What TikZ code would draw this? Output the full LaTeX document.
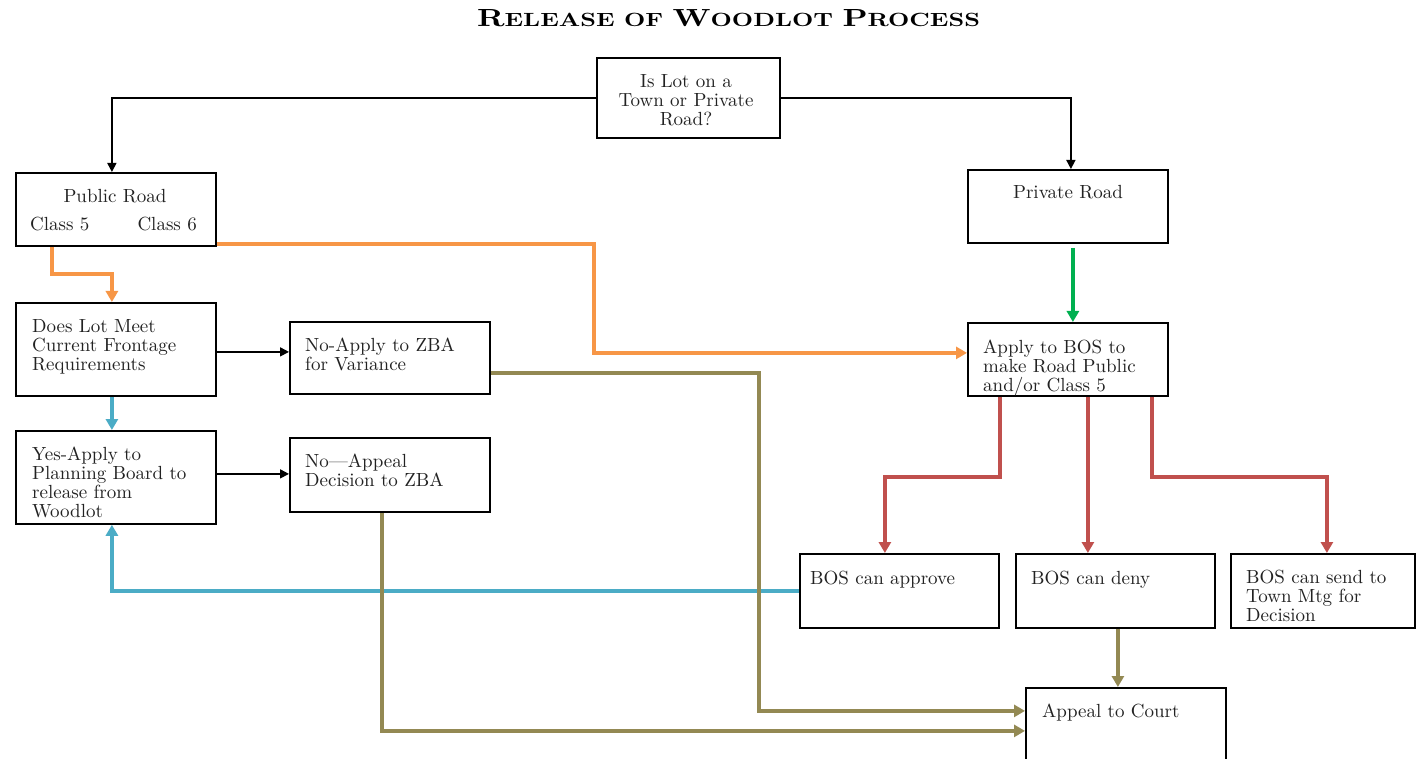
\documentclass[tikz,border=0pt]{standalone}
\usepackage{fontspec}
\setmainfont{lmroman10-regular.otf}[BoldFont=lmroman10-bold.otf]
\usepackage{graphicx}
\usetikzlibrary{arrows.meta}
\definecolor{corange}{HTML}{F79646}
\definecolor{cgreen}{HTML}{00B050}
\definecolor{cblue}{HTML}{4BACC6}
\definecolor{cred}{HTML}{C0504D}
\definecolor{colive}{HTML}{938953}
\definecolor{ctext}{HTML}{222222}
\tikzset{
  bx/.style={draw=black, line width=1.8pt, rectangle, inner sep=0pt, anchor=north west},
  txt/.style={inner sep=0pt, align=left, text=ctext, font=\fontsize{19}{19}\selectfont},
  blk/.style={draw=black, line width=1.6pt, -{Triangle[length=9pt,width=9pt]}},
  col/.style={line width=4pt, -{Triangle[length=11pt,width=12pt]}},
}
\begin{document}
\begin{tikzpicture}[x=1pt,y=-1pt]
\useasboundingbox (0,0) rectangle (1416,759);
\fill[white] (0,0) rectangle (1416,759);

% title
\node[inner sep=0pt, anchor=base] (title) at (728.5,27) {\resizebox{503pt}{17pt}{\bfseries
  \fontsize{24}{24}\selectfont R\fontsize{18.5}{18.5}\selectfont ELEASE OF
  \fontsize{24}{24}\selectfont W\fontsize{18.5}{18.5}\selectfont OODLOT
  \fontsize{24}{24}\selectfont P\fontsize{18.5}{18.5}\selectfont ROCESS}};

% boxes
\node[bx, minimum width=183pt, minimum height=80pt] (q) at (596,57) {};
\node[bx, minimum width=200pt, minimum height=73pt] (pub) at (15,172) {};
\node[bx, minimum width=200pt, minimum height=73pt] (priv) at (967,169) {};
\node[bx, minimum width=200pt, minimum height=93pt] (dol) at (15,302) {};
\node[bx, minimum width=200pt, minimum height=72pt] (noz) at (289,321) {};
\node[bx, minimum width=200pt, minimum height=93pt] (yes) at (15,430) {};
\node[bx, minimum width=200pt, minimum height=74pt] (noa) at (289,437) {};
\node[bx, minimum width=200pt, minimum height=73pt] (bos) at (967,322) {};
\node[bx, minimum width=199pt, minimum height=74pt] (app) at (799,553) {};
\node[bx, minimum width=199pt, minimum height=74pt] (deny) at (1015,553) {};
\node[bx, minimum width=184pt, minimum height=74pt] (send) at (1230,553) {};
\node[bx, minimum width=200pt, minimum height=83pt] (court) at (1025,687) {};

% texts (multi-line nodes: base = baseline of last line)
\node[txt, align=center, anchor=base] (t-q) at (686,126) {Is Lot on a\\Town or Private\\Road?};
\node[txt, anchor=base] (t-pub) at (115,202.5) {Public Road};
\node[txt, anchor=base west] (t-c5) at (30,230.5) {Class 5};
\node[txt, anchor=base east] (t-c6) at (197,230.5) {Class 6};
\node[txt, anchor=base] (t-priv) at (1068,198.5) {Private Road};
\node[txt, anchor=base west] (t-dol) at (32,370) {Does Lot Meet\\Current Frontage\\Requirements};
\node[txt, anchor=base west] (t-noz) at (305,370.5) {No-Apply to ZBA\\for Variance};
\node[txt, anchor=base west] (t-yes) at (32,517) {Yes-Apply to\\Planning Board to\\release from\\Woodlot};
\node[txt, anchor=base west] (t-noa) at (305,486.5) {No—Appeal\\Decision to ZBA};
\node[txt, anchor=base west] (t-bos) at (983,391) {Apply to BOS to\\make Road Public\\and/or Class 5};
\node[txt, anchor=base west] (t-app) at (810,584.5) {BOS can approve};
\node[txt, anchor=base west] (t-deny) at (1031,584.5) {BOS can deny};
\node[txt, anchor=base west] (t-send) at (1246,621.5) {BOS can send to\\Town Mtg for\\Decision};
\node[txt, anchor=base west] (t-court) at (1042,717.5) {Appeal to Court};

% black connectors
\draw[blk] (q.west) -| ([xshift=-4pt]pub.north);
\draw[blk] (q.east) -| ([xshift=3pt]priv.north);
\draw[blk] ([yshift=-2.5pt]dol.east) -- ([yshift=-2.5pt]dol.east -| noz.west);
\draw[blk] ([yshift=3.5pt]yes.east) -- ([yshift=3.5pt]yes.east -| noa.west);

% orange
\draw[col, corange] ([xshift=37pt]pub.south west) -- ++(0,27) -| ([xshift=-4pt]dol.north);
\draw[col, corange] ([yshift=3pt]pub.south east) -- ++(377,0) |- ([yshift=6.5pt]bos.west);

% green
\draw[col, cgreen, shorten <=4pt] ([xshift=5pt]priv.south) -- ([xshift=5pt]bos.north);

% blue
\draw[col, cblue] ([xshift=-4pt]dol.south) -- ([xshift=-4pt]yes.north);
\draw[col, cblue] (app.west) -| ([xshift=-4pt]yes.south);

% red
\draw[col, cred] ([xshift=33pt]bos.south west) -- ++(0,80) -| ([xshift=-14.5pt]app.north);
\draw[col, cred] ([xshift=20pt]bos.south) -- ([xshift=20pt]bos.south |- deny.north);
\draw[col, cred] ([xshift=-17pt]bos.south east) -- ++(0,80) -| ([xshift=4pt]send.north);

% olive
\draw[col, colive] ([yshift=-15pt]noz.east) -- ++(268,0) |- ([yshift=18.5pt]court.west);
\draw[col, colive] ([xshift=-8pt]noa.south) |- ([yshift=-1.5pt]court.west);
\draw[col, colive] ([xshift=2.5pt]deny.south) -- ([xshift=2.5pt]deny.south |- court.north);
\end{tikzpicture}
\end{document}
